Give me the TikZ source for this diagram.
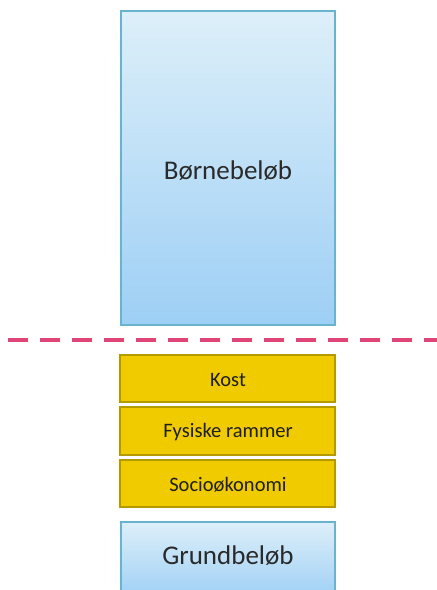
\documentclass[tikz,border=0pt]{standalone}
\usepackage{fontspec}
\setmainfont{Carlito}
\definecolor{bluetop}{HTML}{DDEFF9}
\definecolor{bluebot}{HTML}{9DCFF5}
\definecolor{blueedge}{HTML}{68B4CF}
\definecolor{yelfill}{HTML}{EFCB00}
\definecolor{yeledge}{HTML}{B39A00}
\definecolor{dashcol}{HTML}{E04578}
\definecolor{txt}{HTML}{2A2A2A}
\begin{document}
\begin{tikzpicture}[x=1pt,y=-1pt,
  bluebox/.style={draw=blueedge,line width=1.5pt,top color=bluetop,bottom color=bluebot},
  yelbox/.style={draw=yeledge,line width=1.8pt,fill=yelfill},
  bigtext/.style={font=\fontsize{27}{30}\selectfont,text=txt},
  smalltext/.style={font=\fontsize{20.5}{24}\selectfont,text=black!88}]
\useasboundingbox (0,0) rectangle (437,590);
\begin{scope}
\clip (0,0) rectangle (437,590);
\draw[bluebox] (121,11) rectangle (335,325);
\node[bigtext] (borne) at (228,171) {Børnebeløb};
\draw[dashcol,line width=4.8pt,dash pattern=on 20pt off 12pt] (8,340) -- (445,340);
\draw[yelbox] (120,355) rectangle (335,402);
\node[smalltext] (kost) at (228,380) {Kost};
\draw[yelbox] (120,407) rectangle (335,455);
\node[smalltext] (fys) at (228,432) {Fysiske rammer};
\draw[yelbox] (120,460) rectangle (335,507);
\node[smalltext] (soc) at (228,485) {Socioøkonomi};
\draw[bluebox] (121,522) rectangle (335,600);
\node[bigtext] (grund) at (228,556) {Grundbeløb};
\end{scope}
\end{tikzpicture}
\end{document}
